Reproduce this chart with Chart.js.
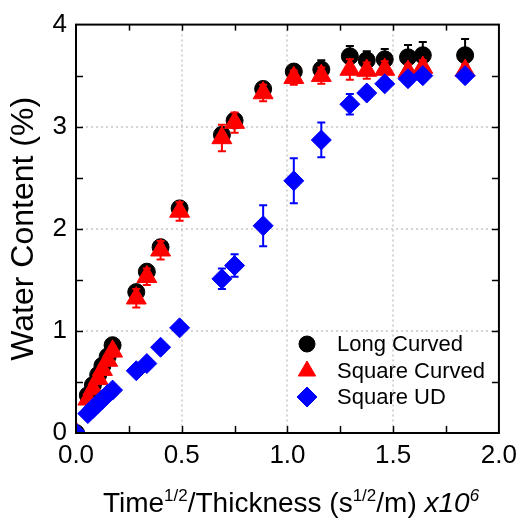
<!DOCTYPE html>
<html>
<head>
<meta charset="utf-8">
<script src="https://cdn.jsdelivr.net/npm/chart.js@4.4.1/dist/chart.umd.min.js"></script>
<style>
  html, body { margin: 0; padding: 0; background: #fff; }
  #wrap { width: 524px; height: 518px; }
</style>
</head>
<body>
<div id="wrap"><canvas id="chart" width="524" height="518"></canvas></div>
<script>
// Time^1/2 / thickness (x10^6), shared by the three specimen types
var xValues = [0, 0.056, 0.08, 0.105, 0.125, 0.15, 0.173,
    0.285, 0.335, 0.40, 0.49, 0.69, 0.75, 0.885, 1.03, 1.16,
    1.295, 1.375, 1.46, 1.57, 1.64, 1.84];

var longCurved = [0, 0.37, 0.47, 0.57, 0.66, 0.75, 0.86,
    1.38, 1.58, 1.82, 2.20, 2.92, 3.06, 3.37, 3.54, 3.56,
    3.69, 3.65, 3.66, 3.68, 3.70, 3.70];
var longCurvedErr = [0, 0.02, 0.02, 0.02, 0.02, 0.02, 0.03,
    0.05, 0.05, 0.05, 0.05, 0.05, 0.07, 0.06, 0.06, 0.09,
    0.10, 0.09, 0.10, 0.12, 0.13, 0.16];

var squareCurved = [0, 0.33, 0.43, 0.53, 0.62, 0.71, 0.80,
    1.32, 1.53, 1.79, 2.17, 2.89, 3.04, 3.33, 3.48, 3.50,
    3.56, 3.55, 3.56, 3.54, 3.58, 3.55];
var squareCurvedErr = [0, 0.03, 0.03, 0.03, 0.03, 0.04, 0.05,
    0.09, 0.08, 0.09, 0.09, 0.13, 0.10, 0.08, 0.07, 0.08,
    0.10, 0.08, 0.08, 0.07, 0.07, 0.06];

var squareUD = [0, 0.19, 0.24, 0.29, 0.33, 0.38, 0.42,
    0.61, 0.68, 0.84, 1.03, 1.51, 1.64, 2.03, 2.47, 2.87,
    3.22, 3.33, 3.42, 3.47, 3.50, 3.50];
var squareUDErr = [0, 0.02, 0.02, 0.02, 0.02, 0.02, 0.02,
    0.03, 0.03, 0.03, 0.03, 0.10, 0.11, 0.20, 0.22, 0.17,
    0.10, 0.05, 0.05, 0.04, 0.04, 0.04];

var seriesNames = ['Long Curved', 'Square Curved', 'Square UD'];
var xMajor = [0, 0.5, 1.0, 1.5, 2.0];
var yMajor = [0, 1, 2, 3, 4];

var FONT = "'Liberation Sans', Arial, Helvetica, sans-serif";
var errSets = [longCurvedErr, squareCurvedErr, squareUDErr];

function toPoints(ys) {
    return xValues.map(function(x, i) { return { x: x, y: ys[i] }; });
}

function line(ctx, x1, y1, x2, y2) {
    ctx.beginPath();
    ctx.moveTo(x1, y1);
    ctx.lineTo(x2, y2);
    ctx.stroke();
}

// dotted grid at major ticks
var gridPlugin = {
    id: 'grid',
    beforeDatasetsDraw: function(chart) {
        var ctx = chart.ctx, a = chart.chartArea;
        var xs = chart.scales.x, ys = chart.scales.y;
        ctx.save();
        ctx.strokeStyle = '#c8c8c8';
        ctx.lineWidth = 1.5;
        ctx.setLineDash([2, 3]);
        xMajor.forEach(function(v) {
            if (v <= 0 || v >= 2) return;
            var px = Math.round(xs.getPixelForValue(v));
            line(ctx, px, a.top, px, a.bottom);
        });
        yMajor.forEach(function(v) {
            if (v <= 0 || v >= 4) return;
            var py = Math.round(ys.getPixelForValue(v));
            line(ctx, a.left, py, a.right, py);
        });
        ctx.restore();
    }
};

// error bars, drawn just under each dataset's markers
var errorBarPlugin = {
    id: 'errorBars',
    beforeDatasetDraw: function(chart, args) {
        var ctx = chart.ctx, a = chart.chartArea, ys = chart.scales.y;
        var ds = chart.data.datasets[args.index];
        var errs = errSets[args.index];
        ctx.save();
        ctx.beginPath();
        ctx.rect(a.left, a.top, a.right - a.left, a.bottom - a.top);
        ctx.clip();
        ctx.strokeStyle = ds.backgroundColor;
        ctx.lineWidth = 2;
        args.meta.data.forEach(function(el, i) {
            var e = errs[i];
            if (!e) return;
            var v = ds.data[i].y;
            var top = ys.getPixelForValue(v + e);
            var bot = ys.getPixelForValue(v - e);
            line(ctx, el.x, top, el.x, bot);
            line(ctx, el.x - 4, top, el.x + 4, top);
            line(ctx, el.x - 4, bot, el.x + 4, bot);
        });
        ctx.restore();
    }
};

// box frame with inward ticks on all four sides, legend and x title
var framePlugin = {
    id: 'frame',
    afterDatasetsDraw: function(chart) {
        var ctx = chart.ctx, a = chart.chartArea;
        var xs = chart.scales.x, ys = chart.scales.y;
        ctx.save();
        ctx.strokeStyle = '#000';
        ctx.lineWidth = 2;
        ctx.strokeRect(a.left, a.top, a.right - a.left, a.bottom - a.top);
        ctx.lineWidth = 1.5;
        for (var v = 0.25; v < 2; v += 0.25) {
            var px = Math.round(xs.getPixelForValue(v)) + 0.5;
            line(ctx, px, a.bottom, px, a.bottom - 7);
            line(ctx, px, a.top, px, a.top + 6);
        }
        for (var w = 0.5; w < 4; w += 0.5) {
            var py = Math.round(ys.getPixelForValue(w)) + 0.5;
            line(ctx, a.left, py, a.left + 7, py);
            line(ctx, a.right, py, a.right - 7, py);
        }
        ctx.restore();
    },
    afterDraw: function(chart) {
        var ctx = chart.ctx;
        ctx.save();
        // legend
        var rows = [344, 371, 397];
        ctx.font = '22px ' + FONT;
        ctx.textBaseline = 'middle';
        ctx.textAlign = 'left';
        chart.data.datasets.forEach(function(ds, i) {
            ctx.fillStyle = ds.backgroundColor;
            ctx.strokeStyle = ds.backgroundColor;
            Chart.helpers.drawPoint(ctx, {
                pointStyle: ds.pointStyle,
                radius: ds.pointStyle === 'circle' ? 8 : 10,
                rotation: 0,
                borderWidth: 1
            }, 307, rows[i]);
            ctx.fillStyle = '#000';
            ctx.fillText(seriesNames[i], 337, rows[i] + 1);
        });

        // x axis title with superscripts
        var parts = [
            { t: 'Time' }, { t: '1/2', sup: true }, { t: '/Thickness (s' },
            { t: '1/2', sup: true }, { t: '/m) ' }, { t: 'x10', it: true },
            { t: '6', sup: true, it: true }
        ];
        function fontFor(p) {
            return (p.it ? 'italic ' : '') + (p.sup ? '17px ' : '28px ') + FONT;
        }
        var total = 0;
        parts.forEach(function(p) {
            ctx.font = fontFor(p);
            p.w = ctx.measureText(p.t).width;
            total += p.w;
        });
        var x = 291 - total / 2, base = 512;
        ctx.fillStyle = '#000';
        ctx.textBaseline = 'alphabetic';
        parts.forEach(function(p) {
            ctx.font = fontFor(p);
            ctx.fillText(p.t, x, p.sup ? base - 11 : base);
            x += p.w;
        });
        ctx.restore();
    }
};

var datasets = [
    { label: seriesNames[0], data: toPoints(longCurved), pointStyle: 'circle',
      pointRadius: 8.5, backgroundColor: '#000000', borderColor: '#000000', order: 3 },
    { label: seriesNames[1], data: toPoints(squareCurved), pointStyle: 'triangle',
      pointRadius: 11.5, backgroundColor: '#ff0000', borderColor: '#ff0000', order: 2 },
    { label: seriesNames[2], data: toPoints(squareUD), pointStyle: 'rectRot',
      pointRadius: 10, backgroundColor: '#0000ff', borderColor: '#0000ff', order: 1 }
];
datasets.forEach(function(d) {
    d.showLine = false;
    d.borderWidth = 1;
    d.pointHoverRadius = d.pointRadius;
});

new Chart(document.getElementById('chart'), {
    type: 'scatter',
    data: { datasets: datasets },
    plugins: [gridPlugin, errorBarPlugin, framePlugin],
    options: {
        responsive: false,
        animation: false,
        devicePixelRatio: 1,
        layout: { padding: { top: 22, right: 21, left: 0, bottom: 0 } },
        plugins: { legend: { display: false }, tooltip: { enabled: false } },
        scales: {
            x: {
                type: 'linear', min: 0, max: 2,
                grid: { display: false, drawTicks: false },
                border: { display: false },
                ticks: {
                    stepSize: 0.5, padding: 7, color: '#000',
                    font: { family: FONT, size: 26 },
                    callback: function(v) { return v.toFixed(1); }
                },
                afterFit: function(s) { s.height = 85; }
            },
            y: {
                type: 'linear', min: 0, max: 4,
                grid: { display: false, drawTicks: false },
                border: { display: false },
                ticks: {
                    stepSize: 1, padding: 9, color: '#000',
                    font: { family: FONT, size: 26 }
                },
                title: {
                    display: true, text: 'Water Content (%)', color: '#000',
                    font: { family: FONT, size: 32 },
                    padding: { top: 5, bottom: 0 }
                },
                afterFit: function(s) { s.width = 76; }
            }
        }
    }
});
</script>
</body>
</html>
